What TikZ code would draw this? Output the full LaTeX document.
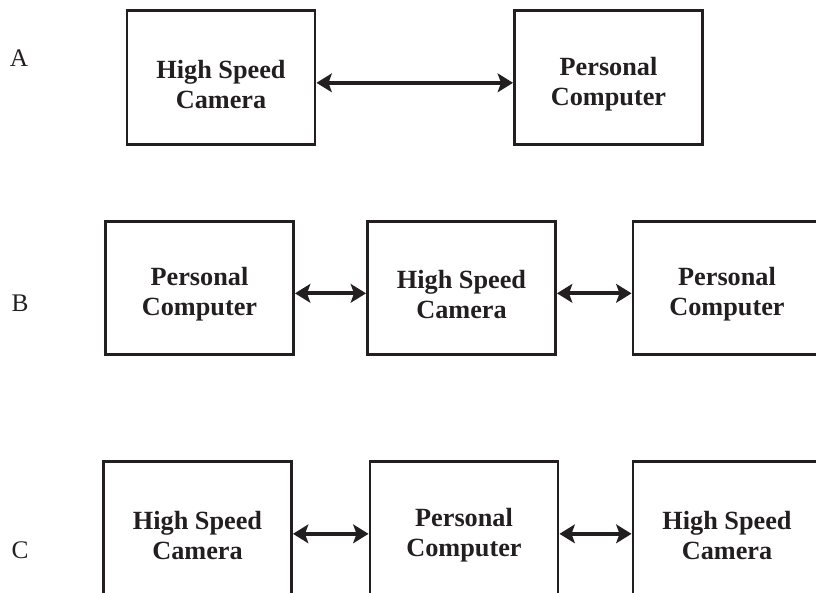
\documentclass[tikz,border=0pt]{standalone}
\usepackage{fontspec}
\setmainfont{Liberation Serif}
\usepackage{tikz}
\usetikzlibrary{arrows.meta}
\definecolor{RigInk}{HTML}{231F20}

\tikzset{
  unitbox/.style={draw=RigInk,line width=2.2pt,minimum width=141pt,minimum height=100pt,inner sep=0pt},
  unittext/.style={align=center,text=RigInk,font=\bfseries\fontsize{19.7}{22.5}\selectfont},
  rowlabel/.style={text=RigInk,font=\fontsize{19}{22}\selectfont},
  link/.style={RigInk,line width=3pt,{Stealth[length=11.5pt,width=14pt,inset=2.5pt]}-{Stealth[length=11.5pt,width=14pt,inset=2.5pt]}}
}

\begin{document}
\begin{tikzpicture}[x=0.75pt,y=-0.75pt]
\path[use as bounding box] (0,0) rectangle (816,592);
\clip (0,0) rectangle (816,592);
% row A
\node[rowlabel] (labA) at (19,58) {A};
\node[unitbox] (a1) at (221,77.5) {};
\node[unitbox] (a2) at (608.5,77.5) {};
\node[unittext] (a1t) at ([yshift=-5pt]a1.center) {High Speed\\Camera};
\node[unittext] (a2t) at ([yshift=-5pt]a2.center) {Personal\\Computer};
\draw[link] ([yshift=-4pt]a1.east) -- ([yshift=-4pt]a2.west);
% row B
\node[rowlabel] (labB) at (20,303) {B};
\node[unitbox] (b1) at (199.5,288) {};
\node[unitbox] (b2) at (461.5,288) {};
\node[unitbox] (b3) at (727,288) {};
\node[unittext] (b1t) at ([yshift=-5pt]b1.center) {Personal\\Computer};
\node[unittext] (b2t) at ([yshift=-5pt]b2.center) {High Speed\\Camera};
\node[unittext] (b3t) at ([yshift=-5pt]b3.center) {Personal\\Computer};
\draw[link] ([yshift=-4pt]b1.east) -- ([yshift=-4pt]b2.west);
\draw[link] ([yshift=-4pt]b2.east) -- ([yshift=-4pt]b3.west);
% row C
\node[rowlabel] (labC) at (20,550) {C};
\node[unitbox] (c1) at (197.5,528.5) {};
\node[unitbox] (c2) at (464,528.5) {};
\node[unitbox] (c3) at (727,528.5) {};
\node[unittext] (c1t) at ([yshift=-5pt]c1.center) {High Speed\\Camera};
\node[unittext] (c2t) at ([yshift=-5pt]c2.center) {Personal\\Computer};
\node[unittext] (c3t) at ([yshift=-5pt]c3.center) {High Speed\\Camera};
\draw[link] ([yshift=-4pt]c1.east) -- ([yshift=-4pt]c2.west);
\draw[link] ([yshift=-4pt]c2.east) -- ([yshift=-4pt]c3.west);
\end{tikzpicture}
\end{document}
